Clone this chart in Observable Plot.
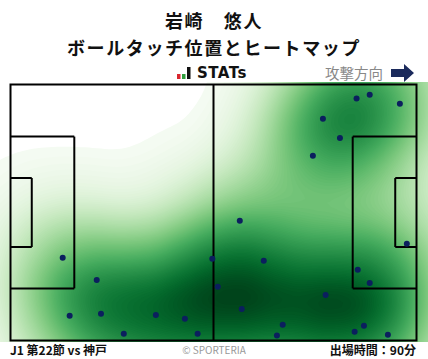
<!DOCTYPE html>
<html><head><meta charset="utf-8">
<script src="https://cdn.jsdelivr.net/npm/d3@7"></script>
<script src="https://cdn.jsdelivr.net/npm/@observablehq/plot@0.6"></script>
<style>
body{margin:0;background:#fff;font-family:"Noto Sans CJK JP","Noto Sans",sans-serif;}
#wrap{position:relative;width:428px;height:359px;overflow:hidden;}
.t{position:absolute;left:0;width:428px;text-align:center;font-weight:bold;font-size:18px;letter-spacing:1.6px;color:#111;line-height:26px;height:26px;}
#chart{position:absolute;left:0;top:82px;}
.f{position:absolute;top:342px;line-height:15px;font-size:12px;font-weight:bold;color:#111;}
</style></head>
<body><div id="wrap">
<div class="t" style="top:7px">岩崎　悠人</div>
<div class="t" style="top:34px">ボールタッチ位置とヒートマップ</div>
<div style="position:absolute;left:176px;top:64px;height:18px;display:flex;align-items:center;">
<svg width="15" height="12" style="margin-right:6px"><rect x="1" y="7" width="3.5" height="5" fill="#d9262e"/><rect x="6" y="7" width="3.5" height="5" fill="#2f9e3c"/><rect x="11" y="0" width="3.5" height="12" fill="#111"/></svg>
<span style="font-family:'DejaVu Sans',sans-serif;font-weight:bold;font-size:15px;color:#111;letter-spacing:0.5px">STATs</span></div>
<div style="position:absolute;left:325px;top:63px;font-size:14.5px;color:#888;line-height:20px">攻撃方向</div>
<svg style="position:absolute;left:391px;top:63px" width="24" height="20"><polygon points="0,6 13,6 13,1 23,10 13,19 13,14 0,14" fill="#1b2a5c"/></svg>
<div id="chart"></div>
<div class="f" style="left:10px">J1 第22節 vs 神戸</div>
<div class="f" style="left:0;width:428px;text-align:center;font-weight:normal;font-size:10px;color:#999;">© SPORTERIA</div>
<div class="f" style="right:12px">出場時間：90分</div>
</div>
<script>
// touch positions (meters, x: 0-105 toward attacking goal, y: 0-68 from top)
const touchX = [89.5,92.9,100.7,80.8,85.2,78.2,59.3,13.5,22.3,15.3,23.4,29.3,37.6,45.1,48.4,52.2,65.5,53.6,59.8,70.4,68.9,81.5,89.8,92.9,102.5,89.0,91.4,97.6];
const touchY = [3.7,2.7,5.1,9.1,14.2,18.9,36.2,46.0,51.9,61.4,60.9,66.2,61.2,62.2,66.2,46.3,46.8,53.7,59.6,63.8,66.7,55.9,49.2,52.7,42.3,65.7,64.1,66.5];
const touches = touchX.map((x,i)=>({x, y: touchY[i]}));

// pitch markings (meters)
const pitchLines = [
  {x1:52.5,y1:0,x2:52.5,y2:68},
  {x1:0,y1:13.84,x2:16.5,y2:13.84},{x1:16.5,y1:13.84,x2:16.5,y2:54.16},{x1:0,y1:54.16,x2:16.5,y2:54.16},
  {x1:0,y1:24.84,x2:5.5,y2:24.84},{x1:5.5,y1:24.84,x2:5.5,y2:43.16},{x1:0,y1:43.16,x2:5.5,y2:43.16},
  {x1:105,y1:13.84,x2:88.5,y2:13.84},{x1:88.5,y1:13.84,x2:88.5,y2:54.16},{x1:105,y1:54.16,x2:88.5,y2:54.16},
  {x1:105,y1:24.84,x2:99.5,y2:24.84},{x1:99.5,y1:24.84,x2:99.5,y2:43.16},{x1:105,y1:43.16,x2:99.5,y2:43.16}
];

const chart = Plot.plot({
  width: 428, height: 260,
  marginLeft: 10, marginRight: 12, marginTop: 2, marginBottom: 2,
  x: {domain: [0,105], axis: null},
  y: {domain: [0,68], reverse: true, axis: null},
  color: {scheme: "greens", type: "pow", exponent: 0.85},
  marks: [
    Plot.density(touches, {x:"x", y:"y", bandwidth: 45, thresholds: 100, fill: "density", stroke: "none"}),
    Plot.link(pitchLines, {x1:"x1", y1:"y1", x2:"x2", y2:"y2", stroke:"#000", strokeWidth:2}),
    Plot.dot(touches, {x:"x", y:"y", r:3, fill:"#0b1f5e", stroke:"none"}),
    Plot.frame({stroke:"#000", strokeWidth:2})
  ]
});
document.getElementById("chart").appendChild(chart);
</script>
</body></html>
